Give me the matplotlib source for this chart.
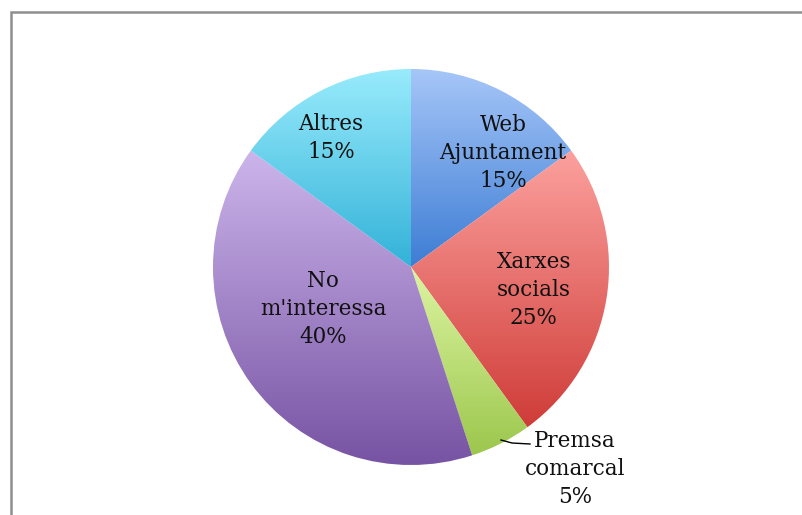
import matplotlib
matplotlib.use("Agg")
import matplotlib.pyplot as plt
import numpy as np
from matplotlib.colors import LinearSegmentedColormap
from matplotlib.patches import Rectangle

categories = ["Web\nAjuntament", "Xarxes\nsocials", "Premsa\ncomarcal", "No\nm'interessa", "Altres"]
values = [15, 25, 5, 40, 15]
top_colors = ["#a6c6f8", "#fca19e", "#ddf5a2", "#ccb5eb", "#98ebfc"]
bottom_colors = ["#3d7dd4", "#cf3c38", "#9cc74d", "#7753a3", "#33b2d8"]
# label centre positions in pixel coordinates (x from left, y from top)
label_pos = [(503, 153), (534, 290), (575, 469), (323, 309), (331, 138)]

W, H = 803, 515
fig = plt.figure(figsize=(W / 100, H / 100), dpi=100)
ax = fig.add_axes([0, 0, 1, 1])
ax.set_xlim(0, W)
ax.set_ylim(0, H)
ax.set_aspect("equal")
ax.axis("off")

# chart frame (extends beyond right and bottom edges)
ax.add_patch(Rectangle((11.5, -10), W + 20, H - 11.5 + 10, fill=False,
                       edgecolor="#8e8e8e", linewidth=1.8, zorder=0))

cx, cy, r = 411, H - 267, 198
wedges, _ = ax.pie(values, startangle=90, counterclock=False, radius=r,
                   center=(cx, cy), frame=True,
                   wedgeprops=dict(linewidth=0, edgecolor="none"))
ax.set_xlim(0, W)
ax.set_ylim(0, H)
ax.axis("off")

grad = np.linspace(0, 1, 256).reshape(-1, 1)
for w, tc, bc in zip(wedges, top_colors, bottom_colors):
    path = w.get_path().transformed(w.get_patch_transform())
    ext = path.get_extents()
    cmap = LinearSegmentedColormap.from_list("g", [tc, bc])
    im = ax.imshow(grad, cmap=cmap, aspect="auto", origin="upper",
                   extent=[ext.x0, ext.x1, ext.y0, ext.y1], zorder=1,
                   interpolation="bilinear")
    im.set_clip_path(w)
    w.set_facecolor("none")
    w.set_zorder(2)

ax.set_xlim(0, W)
ax.set_ylim(0, H)

for (lx, ly), cat, v in zip(label_pos, categories, values):
    ax.text(lx, H - ly, f"{cat}\n{v}%", ha="center", va="center",
            fontsize=15.5, family="DejaVu Serif", linespacing=1.38,
            color="#111111", zorder=5)

# leader line for the small slice
ax.plot([501, 512, 530], [H - 440, H - 443, H - 444], color="black",
        linewidth=1, zorder=4)

fig.savefig("out.png", dpi=100)
